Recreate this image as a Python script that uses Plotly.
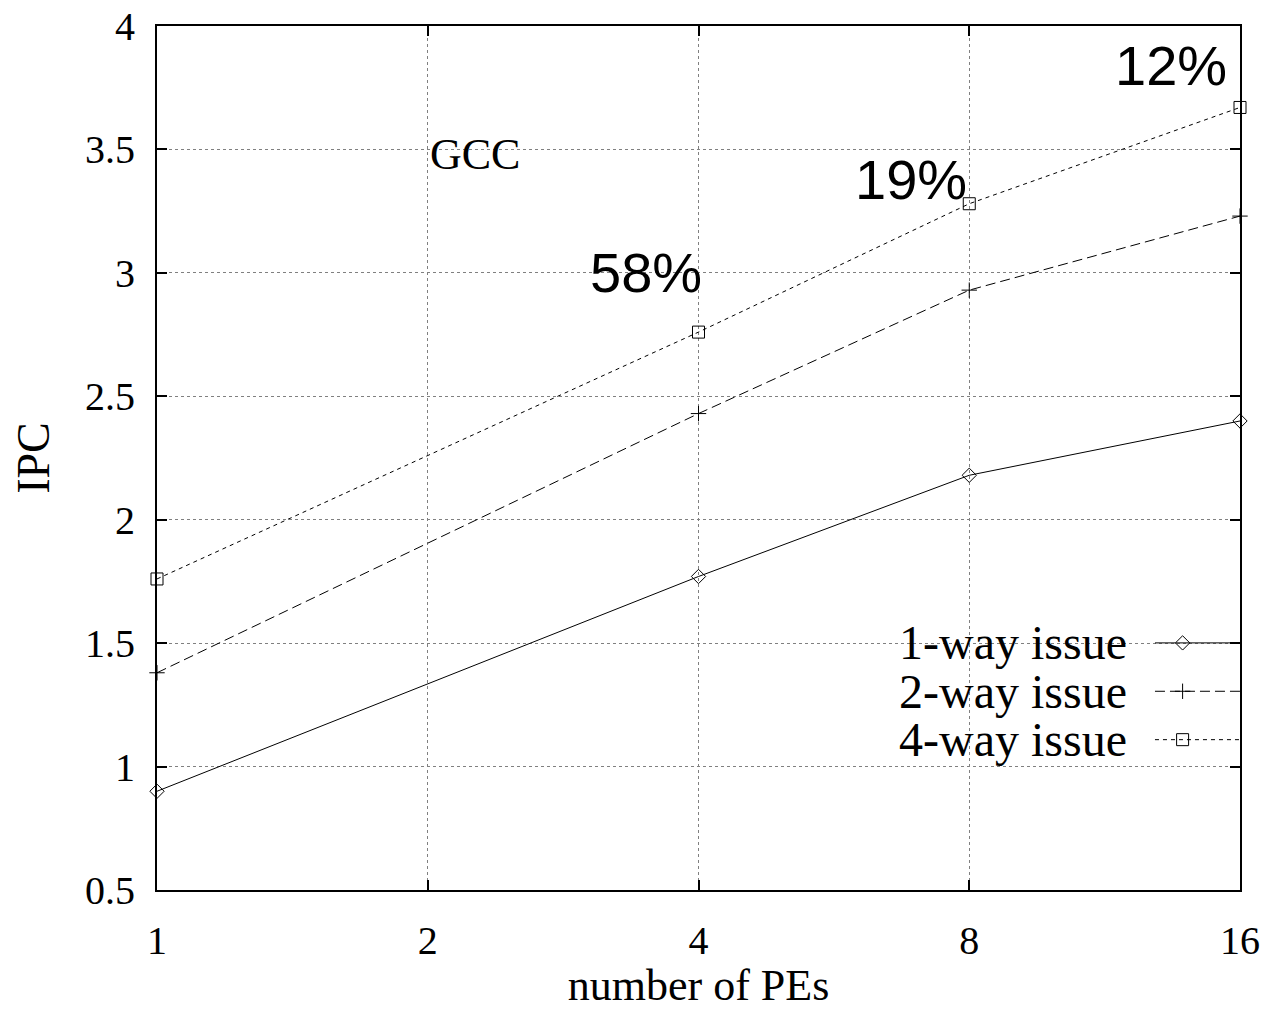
import math
import plotly.graph_objects as go

pes = [1, 4, 8, 16]
x_ticks = [1, 2, 4, 8, 16]
y_ticks = [0.5, 1, 1.5, 2, 2.5, 3, 3.5, 4]
ipc_1way = [0.90, 1.77, 2.18, 2.40]
ipc_2way = [1.38, 2.43, 2.93, 3.23]
ipc_4way = [1.76, 2.76, 3.28, 3.67]
series_names = ["1-way issue", "2-way issue", "4-way issue"]
pct_labels = ["58%", "19%", "12%"]
pct_x = [3.5, 6.9, 13.4]
pct_y = [3.0, 3.38, 3.84]

styles = [
    dict(dash="solid", symbol="diamond-open", size=11),
    dict(dash="10px,5px", symbol="cross-thin-open", size=11),
    dict(dash="4px,4px", symbol="square-open", size=12),
]
series = [ipc_1way, ipc_2way, ipc_4way]

fig = go.Figure()
for name, vals, st in zip(series_names, series, styles):
    fig.add_trace(go.Scatter(
        x=pes, y=vals, name=name, mode="lines+markers",
        line=dict(color="black", width=1, dash=st["dash"]),
        marker=dict(symbol=st["symbol"], size=st["size"], color="black",
                    line=dict(color="black", width=1)),
        cliponaxis=False, showlegend=False,
    ))

# legend samples (gnuplot-style key: text then sample)
legend_rows = [0.286, 0.230, 0.174]
for name, row, st in zip(series_names, legend_rows, styles):
    fig.add_trace(go.Scatter(
        x=[0.9215, 1.0], y=[row, row], mode="lines", xaxis="x2", yaxis="y2",
        line=dict(color="black", width=1, dash=st["dash"]),
        showlegend=False, hoverinfo="skip", cliponaxis=False,
    ))
    fig.add_trace(go.Scatter(
        x=[0.947], y=[row], mode="markers", xaxis="x2", yaxis="y2",
        marker=dict(symbol=st["symbol"], size=st["size"], color="black",
                    line=dict(color="black", width=1)),
        showlegend=False, hoverinfo="skip", cliponaxis=False,
    ))
    fig.add_annotation(x=0.8975, y=row, xref="x2", yref="y2", text=name,
                       showarrow=False, xanchor="right", yanchor="middle",
                       font=dict(family="Liberation Serif", size=48, color="black"))

for t, xx, yy in zip(pct_labels, pct_x, pct_y):
    fig.add_annotation(x=math.log10(xx), y=yy, xref="x", yref="y", text=t,
                       showarrow=False, xanchor="center", yanchor="middle",
                       font=dict(family="Liberation Sans", size=56, color="black"))

fig.add_annotation(x=math.log10(2), y=3.48, xref="x", yref="y", text="GCC",
                   showarrow=False, xanchor="left", yanchor="middle",
                   font=dict(family="Liberation Serif", size=44, color="black"))

axis_common = dict(
    showline=True, linecolor="black", linewidth=2, mirror="ticks",
    ticks="inside", ticklen=10, tickwidth=2, tickcolor="black",
    showgrid=True, gridcolor="#808080", griddash="dot", gridwidth=1,
    zeroline=False, automargin=False, ticklabeloverflow="allow",
    tickfont=dict(family="Liberation Serif", size=40, color="black"),
)

fig.update_layout(
    width=1262, height=1002,
    margin=dict(l=149, r=30, t=18, b=120),
    paper_bgcolor="white", plot_bgcolor="white",
    xaxis=dict(type="log", range=[0, math.log10(16)], tickvals=x_ticks,
               ticktext=[str(v) for v in x_ticks], ticklabelstandoff=14,
               title=dict(text="number of PEs", standoff=22,
                          font=dict(family="Liberation Serif", size=44, color="black")),
               **axis_common),
    yaxis=dict(range=[0.5, 4], tickvals=y_ticks,
               ticktext=[("%g" % v) for v in y_ticks], ticklabelstandoff=12,
               title=dict(text="IPC", standoff=34,
                          font=dict(family="Liberation Serif", size=46, color="black")),
               **axis_common),
    xaxis2=dict(overlaying="x", range=[0, 1], visible=False, anchor="y2"),
    yaxis2=dict(overlaying="y", range=[0, 1], visible=False, anchor="x2"),
    showlegend=False,
)

fig.write_html("out.html")
